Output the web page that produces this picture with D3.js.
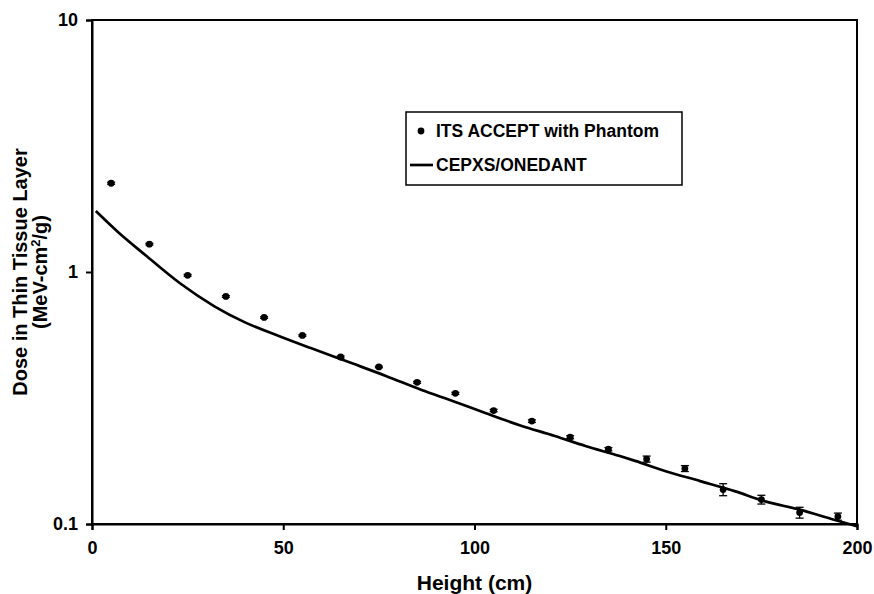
<!DOCTYPE html>
<html>
<head>
<meta charset="utf-8">
<script src="https://cdn.jsdelivr.net/npm/d3@7"></script>
<style>
  body { margin: 0; background: #fff; }
  text { font-family: "Liberation Sans", Arial, sans-serif; font-weight: bold; fill: #000; }
</style>
</head>
<body>
<div id="chart"></div>
<script>
const W = 874, H = 594;
const margin = { top: 20, right: 17, bottom: 70, left: 92 };

// ITS ACCEPT with Phantom (points with error bars)
const itsHeight = [5, 15, 25, 35, 45, 55, 65, 75, 85, 95, 105, 115, 125, 135, 145, 155, 165, 175, 185, 195];
const itsDose   = [2.25, 1.29, 0.97, 0.80, 0.66, 0.56, 0.46, 0.42, 0.365, 0.33, 0.282, 0.256, 0.221, 0.198, 0.181, 0.166, 0.137, 0.125, 0.111, 0.107];
const itsErr    = [0.02, 0.01, 0.008, 0.006, 0.005, 0.004, 0.004, 0.003, 0.003, 0.003, 0.003, 0.003, 0.003, 0.003, 0.005, 0.0045, 0.0075, 0.005, 0.0055, 0.0035];

// CEPXS/ONEDANT curve
const cepHeight = [1, 7, 14, 23, 32, 40, 49, 57, 68, 77, 86, 95, 103, 112, 121, 129, 138, 142, 150, 159, 168, 176, 185, 194, 200];
const cepDose   = [1.745, 1.431, 1.165, 0.902, 0.731, 0.631, 0.556, 0.500, 0.434, 0.386, 0.341, 0.305, 0.275, 0.246, 0.2235, 0.204, 0.186, 0.178, 0.162, 0.148, 0.135, 0.123, 0.114, 0.104, 0.098];

const xTicks = [0, 50, 100, 150, 200];
const yTicks = [0.1, 1, 10];

const width = W - margin.left - margin.right;
const height = H - margin.top - margin.bottom;

const svg = d3.select("#chart").append("svg")
    .attr("width", W)
    .attr("height", H);

const g = svg.append("g")
    .attr("transform", `translate(${margin.left},${margin.top})`);

const x = d3.scaleLinear().domain([0, 200]).range([0, width]);
const y = d3.scaleLog().domain([0.1, 10]).range([height, 0]);

// frame
g.append("rect")
    .attr("width", width)
    .attr("height", height)
    .attr("fill", "none")
    .attr("stroke", "#000")
    .attr("stroke-width", 2);

// axes
const xAxis = g.append("g")
    .attr("transform", `translate(0,${height})`)
    .call(d3.axisBottom(x).tickValues(xTicks).tickSize(6).tickPadding(11).tickFormat(d3.format("d")));
const yAxis = g.append("g")
    .call(d3.axisLeft(y).tickValues(yTicks).tickSize(6).tickPadding(8).tickFormat(d => d));

[xAxis, yAxis].forEach(a => {
    a.select(".domain").attr("stroke-width", 2);
    a.selectAll(".tick line").attr("stroke-width", 2);
    a.selectAll("text").style("font-size", "18px").style("font-family", "Liberation Sans, Arial, sans-serif").attr("font-weight", "bold");
});

// CEPXS line
const line = d3.line()
    .x((d, i) => x(cepHeight[i]))
    .y(d => y(d))
    .curve(d3.curveMonotoneX);

g.append("path")
    .datum(cepDose)
    .attr("d", line)
    .attr("fill", "none")
    .attr("stroke", "#000")
    .attr("stroke-width", 2.7);

// error bars
const eb = g.append("g").attr("stroke", "#000").attr("stroke-width", 1.3);
itsDose.forEach((v, i) => {
    const cx = x(itsHeight[i]);
    const y0 = y(v + itsErr[i]), y1 = y(v - itsErr[i]);
    eb.append("line").attr("x1", cx).attr("x2", cx).attr("y1", y0).attr("y2", y1);
    eb.append("line").attr("x1", cx - 4).attr("x2", cx + 4).attr("y1", y0).attr("y2", y0);
    eb.append("line").attr("x1", cx - 4).attr("x2", cx + 4).attr("y1", y1).attr("y2", y1);
});

// points
g.append("g")
    .selectAll("circle")
    .data(itsDose)
    .join("circle")
    .attr("cx", (d, i) => x(itsHeight[i]))
    .attr("cy", d => y(d))
    .attr("r", 3.4)
    .attr("fill", "#000");

// legend
const lg = svg.append("g").attr("transform", "translate(406,112)");
lg.append("rect")
    .attr("width", 276)
    .attr("height", 73)
    .attr("fill", "#fff")
    .attr("stroke", "#000")
    .attr("stroke-width", 1.5);
lg.append("circle").attr("cx", 15).attr("cy", 19).attr("r", 3.4).attr("fill", "#000");
lg.append("text").attr("x", 30).attr("y", 25).style("font-size", "17.5px").text("ITS ACCEPT with Phantom");
lg.append("line").attr("x1", 4).attr("x2", 27).attr("y1", 53).attr("y2", 53)
    .attr("stroke", "#000").attr("stroke-width", 2.7);
lg.append("text").attr("x", 30).attr("y", 59).style("font-size", "17.5px").text("CEPXS/ONEDANT");

// axis titles
svg.append("text")
    .attr("x", margin.left + width / 2)
    .attr("y", 590)
    .attr("text-anchor", "middle")
    .style("font-size", "21px")
    .text("Height (cm)");

const yt = svg.append("text")
    .attr("transform", `translate(27,${margin.top + height / 2}) rotate(-90)`)
    .attr("text-anchor", "middle")
    .style("font-size", "20px");
yt.append("tspan").attr("x", 0).attr("y", 0).text("Dose in Thin Tissue Layer");
const t2 = yt.append("tspan").attr("x", 0).attr("y", 20).text("(MeV-cm");
t2.append("tspan").attr("dy", -7).style("font-size", "13px").text("2");
t2.append("tspan").attr("dy", 7).text("/g)");
</script>
</body>
</html>
